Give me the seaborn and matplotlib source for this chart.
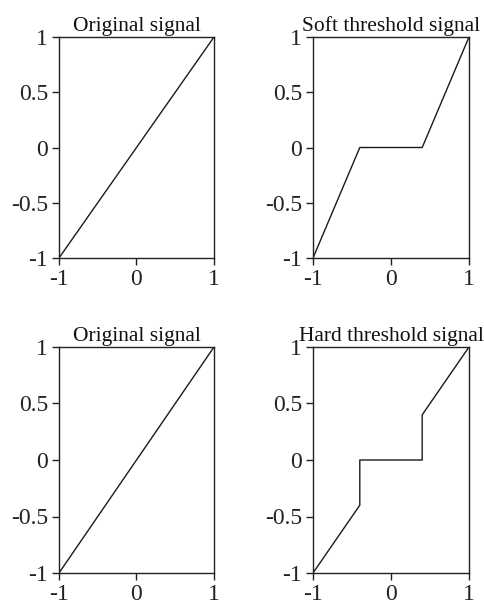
import matplotlib
matplotlib.use("Agg")
import matplotlib.pyplot as plt
import seaborn as sns
import pandas as pd

# Data
orig_x = [-1.0, 1.0]
orig_y = [-1.0, 1.0]
soft_x = [-1.0, -0.4, 0.4, 1.0]
soft_y = [-1.0, 0.0, 0.0, 1.0]
hard_x = [-1.0, -0.4, -0.4, 0.4, 0.4, 1.0]
hard_y = [-1.0, -0.4, 0.0, 0.0, 0.4, 1.0]

titles = ["Original signal", "Soft threshold signal", "Original signal", "Hard threshold signal"]
xticks = [-1, 0, 1]
xticklabels = ["-1", "0", "1"]
yticks = [-1, -0.5, 0, 0.5, 1]
yticklabels = ["-1", "-0.5", "0", "0.5", "1"]

sns.set_style("ticks")
plt.rcParams['font.family'] = ['Liberation Serif', 'DejaVu Serif']
plt.rcParams['axes.unicode_minus'] = False

fig = plt.figure(figsize=(4.85, 6.06), dpi=100)

positions = [
    [59/485, 1-258/606, 155/485, 221/606],
    [313/485, 1-258/606, 156/485, 221/606],
    [59/485, 1-573/606, 155/485, 226/606],
    [313/485, 1-573/606, 156/485, 226/606],
]
series = [(orig_x, orig_y), (soft_x, soft_y), (orig_x, orig_y), (hard_x, hard_y)]

for pos, (xs, ys), title in zip(positions, series, titles):
    ax = fig.add_axes(pos)
    df = pd.DataFrame({"x": xs, "y": ys, "order": range(len(xs))})
    sns.lineplot(data=df, x="x", y="y", sort=False, estimator=None, ax=ax,
                 color="#1a1a1a", linewidth=1.0)
    ax.set_xlim(-1, 1)
    ax.set_ylim(-1, 1)
    ax.set_xticks(xticks)
    ax.set_xticklabels(xticklabels)
    ax.set_yticks(yticks)
    ax.set_yticklabels(yticklabels)
    ax.set_xlabel("")
    ax.set_ylabel("")
    ax.tick_params(direction="out", length=5, width=1, labelsize=17, colors="#222222",
                   pad=3)
    for s in ax.spines.values():
        s.set_visible(True)
        s.set_color("#222222")
        s.set_linewidth(1.0)
    ax.set_title(title, fontsize=15.5, pad=4, color="#111111")

fig.savefig("out.png", dpi=100)
